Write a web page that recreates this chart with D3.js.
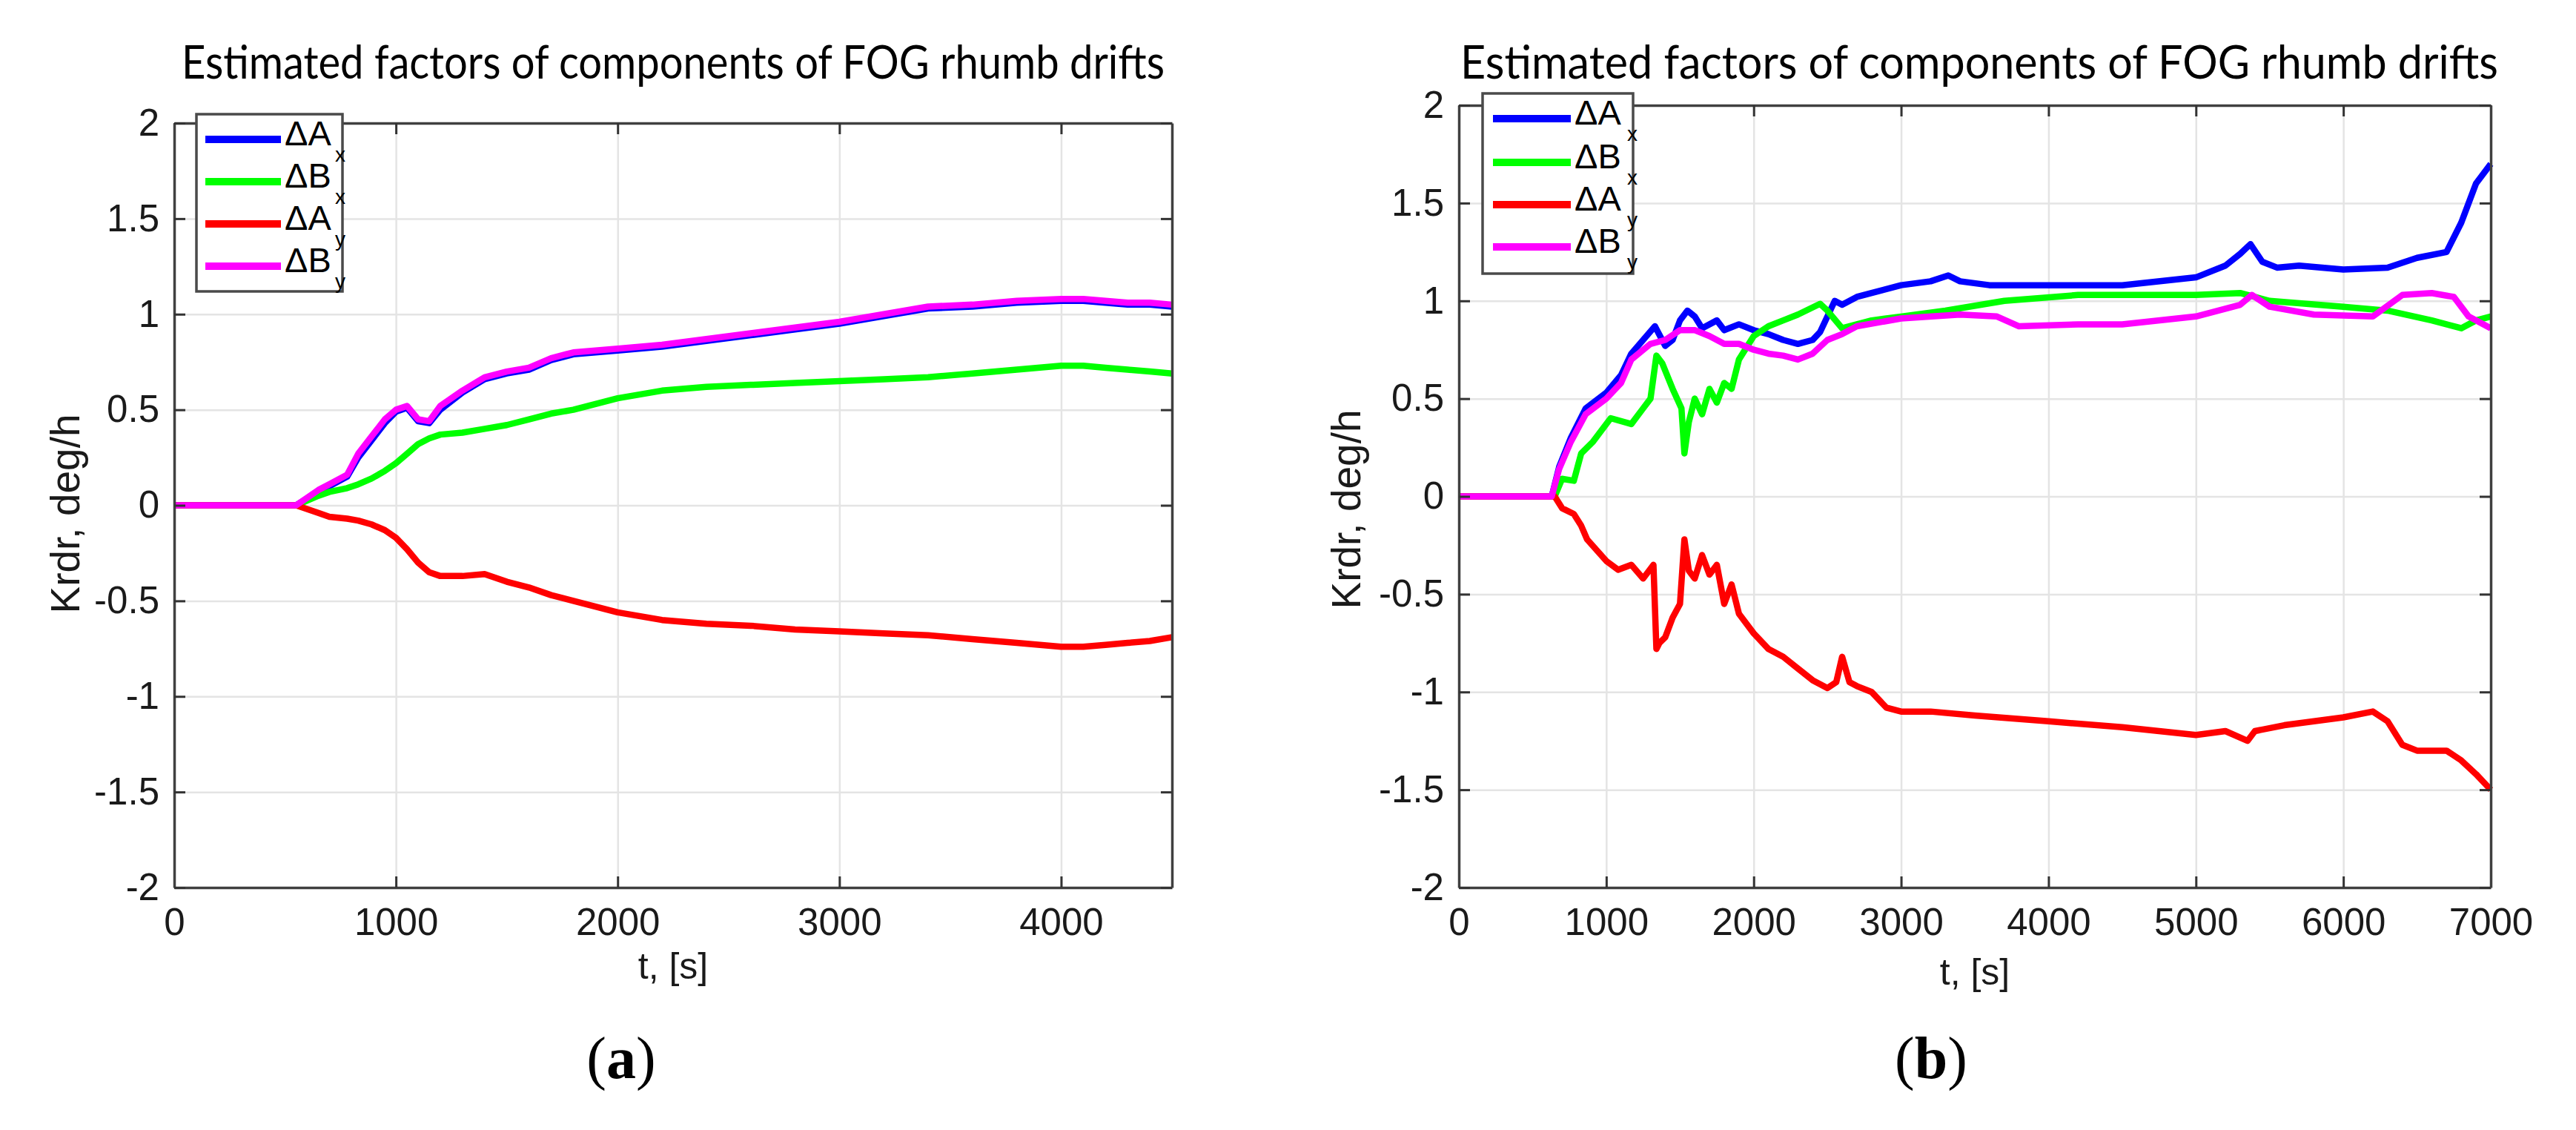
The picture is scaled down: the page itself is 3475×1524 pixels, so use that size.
<!DOCTYPE html>
<html>
<head>
<meta charset="utf-8">
<script src="https://cdn.jsdelivr.net/npm/d3@7"></script>
<style>
  body { margin: 0; background: #fff; }
</style>
</head>
<body>
<div id="figure"></div>
<script>
// shared axis ticks
var yTicks = [-2, -1.5, -1, -0.5, 0, 0.5, 1, 1.5, 2];
var yTickLabels = ["-2", "-1.5", "-1", "-0.5", "0", "0.5", "1", "1.5", "2"];
var xTicksA = [0, 1000, 2000, 3000, 4000];
var xTicksB = [0, 1000, 2000, 3000, 4000, 5000, 6000, 7000];

var legendNames = ["\u0394A", "\u0394B", "\u0394A", "\u0394B"];
var legendSubs = ["x", "x", "y", "y"];
var colors = ["#0000ff", "#00ff00", "#ff0000", "#ff00ff"];

// (a) all series share one time grid
var tA = [0, 550, 650, 700, 780, 830, 890, 950, 1000, 1050, 1100, 1150, 1200, 1300, 1400, 1500, 1600, 1700, 1800, 2000, 2200, 2400, 2600, 2800, 3000, 3200, 3400, 3600, 3800, 4000, 4100, 4200, 4300, 4400, 4500];
var axA = [0, 0, 0.07, 0.1, 0.15, 0.25, 0.34, 0.43, 0.49, 0.51, 0.44, 0.43, 0.5, 0.59, 0.66, 0.69, 0.71, 0.76, 0.79, 0.81, 0.83, 0.86, 0.89, 0.92, 0.95, 0.99, 1.03, 1.04, 1.06, 1.07, 1.07, 1.06, 1.05, 1.05, 1.04];
var bxA = [0, 0, 0.05, 0.07, 0.09, 0.11, 0.14, 0.18, 0.22, 0.27, 0.32, 0.35, 0.37, 0.38, 0.4, 0.42, 0.45, 0.48, 0.5, 0.56, 0.6, 0.62, 0.63, 0.64, 0.65, 0.66, 0.67, 0.69, 0.71, 0.73, 0.73, 0.72, 0.71, 0.7, 0.69];
var ayA = [0, 0, -0.04, -0.06, -0.07, -0.08, -0.1, -0.13, -0.17, -0.23, -0.3, -0.35, -0.37, -0.37, -0.36, -0.4, -0.43, -0.47, -0.5, -0.56, -0.6, -0.62, -0.63, -0.65, -0.66, -0.67, -0.68, -0.7, -0.72, -0.74, -0.74, -0.73, -0.72, -0.71, -0.69];
var byA = [0, 0, 0.08, 0.11, 0.16, 0.27, 0.36, 0.45, 0.5, 0.52, 0.45, 0.44, 0.52, 0.6, 0.67, 0.7, 0.72, 0.77, 0.8, 0.82, 0.84, 0.87, 0.9, 0.93, 0.96, 1.0, 1.04, 1.05, 1.07, 1.08, 1.08, 1.07, 1.06, 1.06, 1.05];

// (b) each series has its own time points
var tAxB = [0, 630, 680, 760, 860, 1000, 1100, 1170, 1250, 1330, 1400, 1450, 1500, 1550, 1600, 1650, 1750, 1800, 1900, 2000, 2100, 2200, 2300, 2400, 2450, 2550, 2600, 2700, 2800, 3000, 3200, 3320, 3400, 3600, 4000, 4500, 5000, 5200, 5300, 5370, 5450, 5550, 5700, 6000, 6300, 6500, 6700, 6800, 6900, 7000];
var vAxB = [0, 0, 0.15, 0.3, 0.45, 0.53, 0.62, 0.73, 0.8, 0.87, 0.77, 0.8, 0.9, 0.95, 0.92, 0.86, 0.9, 0.85, 0.88, 0.85, 0.83, 0.8, 0.78, 0.8, 0.84, 1.0, 0.98, 1.02, 1.04, 1.08, 1.1, 1.13, 1.1, 1.08, 1.08, 1.08, 1.12, 1.18, 1.24, 1.29, 1.2, 1.17, 1.18, 1.16, 1.17, 1.22, 1.25, 1.4, 1.6, 1.7];

var tBxB = [0, 650, 700, 780, 830, 910, 1030, 1170, 1250, 1300, 1340, 1380, 1450, 1510, 1530, 1560, 1600, 1650, 1700, 1750, 1800, 1850, 1900, 2000, 2100, 2200, 2300, 2450, 2500, 2600, 2700, 2800, 3000, 3300, 3700, 4200, 5000, 5300, 5500, 6000, 6300, 6600, 6800, 6900, 7000];
var vBxB = [0, 0, 0.09, 0.08, 0.22, 0.28, 0.4, 0.37, 0.45, 0.5, 0.72, 0.68, 0.55, 0.45, 0.22, 0.38, 0.5, 0.42, 0.55, 0.48, 0.58, 0.55, 0.7, 0.82, 0.87, 0.9, 0.93, 0.985, 0.95, 0.86, 0.88, 0.9, 0.92, 0.95, 1.0, 1.03, 1.03, 1.04, 1.0, 0.97, 0.95, 0.9, 0.86, 0.9, 0.92];

var tAyB = [0, 650, 700, 780, 830, 870, 1000, 1080, 1170, 1250, 1320, 1340, 1360, 1400, 1450, 1500, 1530, 1560, 1600, 1650, 1700, 1750, 1800, 1850, 1900, 2000, 2100, 2200, 2300, 2400, 2500, 2560, 2600, 2650, 2700, 2800, 2900, 3000, 3200, 3500, 4000, 4500, 5000, 5200, 5350, 5400, 5600, 5800, 6000, 6200, 6300, 6400, 6500, 6700, 6800, 6900, 7000];
var vAyB = [0, 0, -0.06, -0.09, -0.15, -0.22, -0.33, -0.375, -0.35, -0.42, -0.35, -0.78, -0.75, -0.72, -0.62, -0.55, -0.22, -0.38, -0.42, -0.3, -0.4, -0.35, -0.55, -0.45, -0.6, -0.7, -0.78, -0.82, -0.88, -0.94, -0.98, -0.95, -0.82, -0.95, -0.97, -1.0, -1.08, -1.1, -1.1, -1.12, -1.15, -1.18, -1.22, -1.2, -1.25, -1.2, -1.17, -1.15, -1.13, -1.1, -1.15, -1.27, -1.3, -1.3, -1.35, -1.42, -1.5];

var tByB = [0, 630, 680, 760, 860, 1000, 1100, 1170, 1300, 1400, 1500, 1600, 1700, 1800, 1900, 2000, 2100, 2200, 2300, 2400, 2500, 2600, 2700, 3000, 3400, 3650, 3800, 4200, 4500, 5000, 5300, 5380, 5500, 5800, 6200, 6400, 6600, 6750, 6850, 7000];
var vByB = [0, 0, 0.14, 0.28, 0.42, 0.5, 0.58, 0.7, 0.78, 0.8, 0.85, 0.85, 0.82, 0.78, 0.78, 0.75, 0.73, 0.72, 0.7, 0.73, 0.8, 0.83, 0.87, 0.91, 0.93, 0.92, 0.87, 0.88, 0.88, 0.92, 0.98, 1.03, 0.97, 0.93, 0.92, 1.03, 1.04, 1.02, 0.92, 0.86];

var titleText = "Estimated factors of components of FOG rhumb drifts";
var xLabel = "t, [s]";
var yLabel = "Krdr, deg/h";

var svg = d3.select("#figure").append("svg")
  .attr("width", 3475)
  .attr("height", 1524)
  .style("background", "#fff");

function drawPanel(p) {
  var x = d3.scaleLinear().domain([0, p.xMax]).range([p.left, p.right]);
  var y = d3.scaleLinear().domain([-2, 2]).range([p.bottom, p.top]);
  var w = p.right - p.left, h = p.bottom - p.top;
  var g = svg.append("g");

  // grid lines
  g.append("g").attr("class", "grid")
    .attr("transform", `translate(0,${p.bottom})`)
    .call(d3.axisBottom(x).tickValues(p.xTicks).tickSize(-h).tickFormat(""));
  g.append("g").attr("class", "grid")
    .attr("transform", `translate(${p.left},0)`)
    .call(d3.axisLeft(y).tickValues(yTicks).tickSize(-w).tickFormat(""));
  g.selectAll(".grid .domain").remove();
  g.selectAll(".grid line").attr("stroke", "#e4e4e4").attr("stroke-width", 2.5);

  // curves
  var line = d3.line().x(d => x(d[0])).y(d => y(d[1]));
  p.series.forEach(function(s, i) {
    g.append("path")
      .datum(d3.zip(s.t, s.v))
      .attr("d", line)
      .attr("fill", "none")
      .attr("stroke", colors[i])
      .attr("stroke-width", 8.5)
      .attr("stroke-linejoin", "round");
  });

  // box with inward ticks on all sides
  var axes = [
    { a: d3.axisBottom(x).tickValues(p.xTicks).tickFormat(d => String(d)).tickPadding(28), tr: `translate(0,${p.bottom})` },
    { a: d3.axisTop(x).tickValues(p.xTicks).tickFormat(""), tr: `translate(0,${p.top})` },
    { a: d3.axisLeft(y).tickValues(yTicks).tickFormat((d, i) => yTickLabels[i]).tickPadding(20), tr: `translate(${p.left},0)` },
    { a: d3.axisRight(y).tickValues(yTicks).tickFormat(""), tr: `translate(${p.right},0)` }
  ];
  axes.forEach(function(ax) {
    var ag = g.append("g").attr("transform", ax.tr)
      .call(ax.a.tickSize(-15).tickSizeOuter(0));
    ag.select(".domain").attr("stroke", "#404040").attr("stroke-width", 3.5);
    ag.selectAll(".tick line").attr("stroke", "#333").attr("stroke-width", 3);
    ag.selectAll(".tick text")
      .attr("font-family", "'Liberation Sans', Arial, sans-serif")
      .attr("font-size", 51)
      .attr("fill", "#1a1a1a");
  });

  // axis labels
  g.append("text")
    .attr("x", (p.left + p.right) / 2)
    .attr("y", p.xLabelY)
    .attr("text-anchor", "middle")
    .attr("font-family", "'Liberation Sans', Arial, sans-serif")
    .attr("font-size", 50)
    .attr("fill", "#1a1a1a")
    .text(xLabel);

  g.append("text")
    .attr("transform", `translate(${p.yLabelX},${p.yLabelMid}) rotate(-90)`)
    .attr("text-anchor", "middle")
    .attr("font-family", "'Liberation Sans', Arial, sans-serif")
    .attr("font-size", 55)
    .attr("fill", "#1a1a1a")
    .text(yLabel);

  // title
  g.append("text")
    .attr("x", p.titleX)
    .attr("y", 106)
    .attr("font-family", "Lato, 'Open Sans', sans-serif")
    .attr("font-size", 62)
    .attr("textLength", p.titleLen)
    .attr("lengthAdjust", "spacingAndGlyphs")
    .attr("fill", "#000")
    .text(titleText);

  // legend
  var lg = p.legend;
  g.append("rect")
    .attr("x", lg.x0).attr("y", lg.y0)
    .attr("width", lg.x1 - lg.x0).attr("height", lg.y1 - lg.y0)
    .attr("fill", "#fff")
    .attr("stroke", "#4a4a4a")
    .attr("stroke-width", 3.5);
  lg.rows.forEach(function(ry, i) {
    g.append("line")
      .attr("x1", lg.lx0).attr("x2", lg.lx1)
      .attr("y1", ry).attr("y2", ry)
      .attr("stroke", colors[i])
      .attr("stroke-width", 10);
    var t = g.append("text")
      .attr("x", lg.tx)
      .attr("y", ry + 8)
      .attr("font-family", "'Liberation Sans', Arial, sans-serif")
      .attr("font-size", 47)
      .attr("fill", "#000");
    t.append("tspan").text(legendNames[i]);
    t.append("tspan")
      .attr("x", lg.sx)
      .attr("dy", 22)
      .attr("font-size", 28)
      .text(legendSubs[i]);
  });

  // panel caption
  var cap = g.append("text")
    .attr("x", p.capX)
    .attr("y", 1454)
    .attr("text-anchor", "middle")
    .attr("font-family", "'Liberation Serif', 'DejaVu Serif', serif")
    .attr("font-size", 80)
    .attr("fill", "#000");
  cap.append("tspan").text("(");
  cap.append("tspan").attr("font-weight", "bold").text(p.capLetter);
  cap.append("tspan").text(")");
}

drawPanel({
  left: 235, right: 1581, top: 166, bottom: 1197, xMax: 4500, xTicks: xTicksA,
  series: [{ t: tA, v: axA }, { t: tA, v: bxA }, { t: tA, v: ayA }, { t: tA, v: byA }],
  xLabelY: 1320, yLabelX: 107, yLabelMid: 693,
  titleX: 245, titleLen: 1326,
  legend: { x0: 265, y0: 154, x1: 462, y1: 393, lx0: 277, lx1: 379, tx: 384, sx: 452, rows: [188, 245, 302, 359] },
  capX: 838, capLetter: "a"
});

drawPanel({
  left: 1968, right: 3360, top: 142, bottom: 1197, xMax: 7000, xTicks: xTicksB,
  series: [{ t: tAxB, v: vAxB }, { t: tBxB, v: vBxB }, { t: tAyB, v: vAyB }, { t: tByB, v: vByB }],
  xLabelY: 1328, yLabelX: 1835, yLabelMid: 687,
  titleX: 1970, titleLen: 1400,
  legend: { x0: 2000, y0: 126, x1: 2203, y1: 369, lx0: 2014, lx1: 2119, tx: 2124, sx: 2195, rows: [160, 219, 276, 333] },
  capX: 2605, capLetter: "b"
});
</script>
</body>
</html>
